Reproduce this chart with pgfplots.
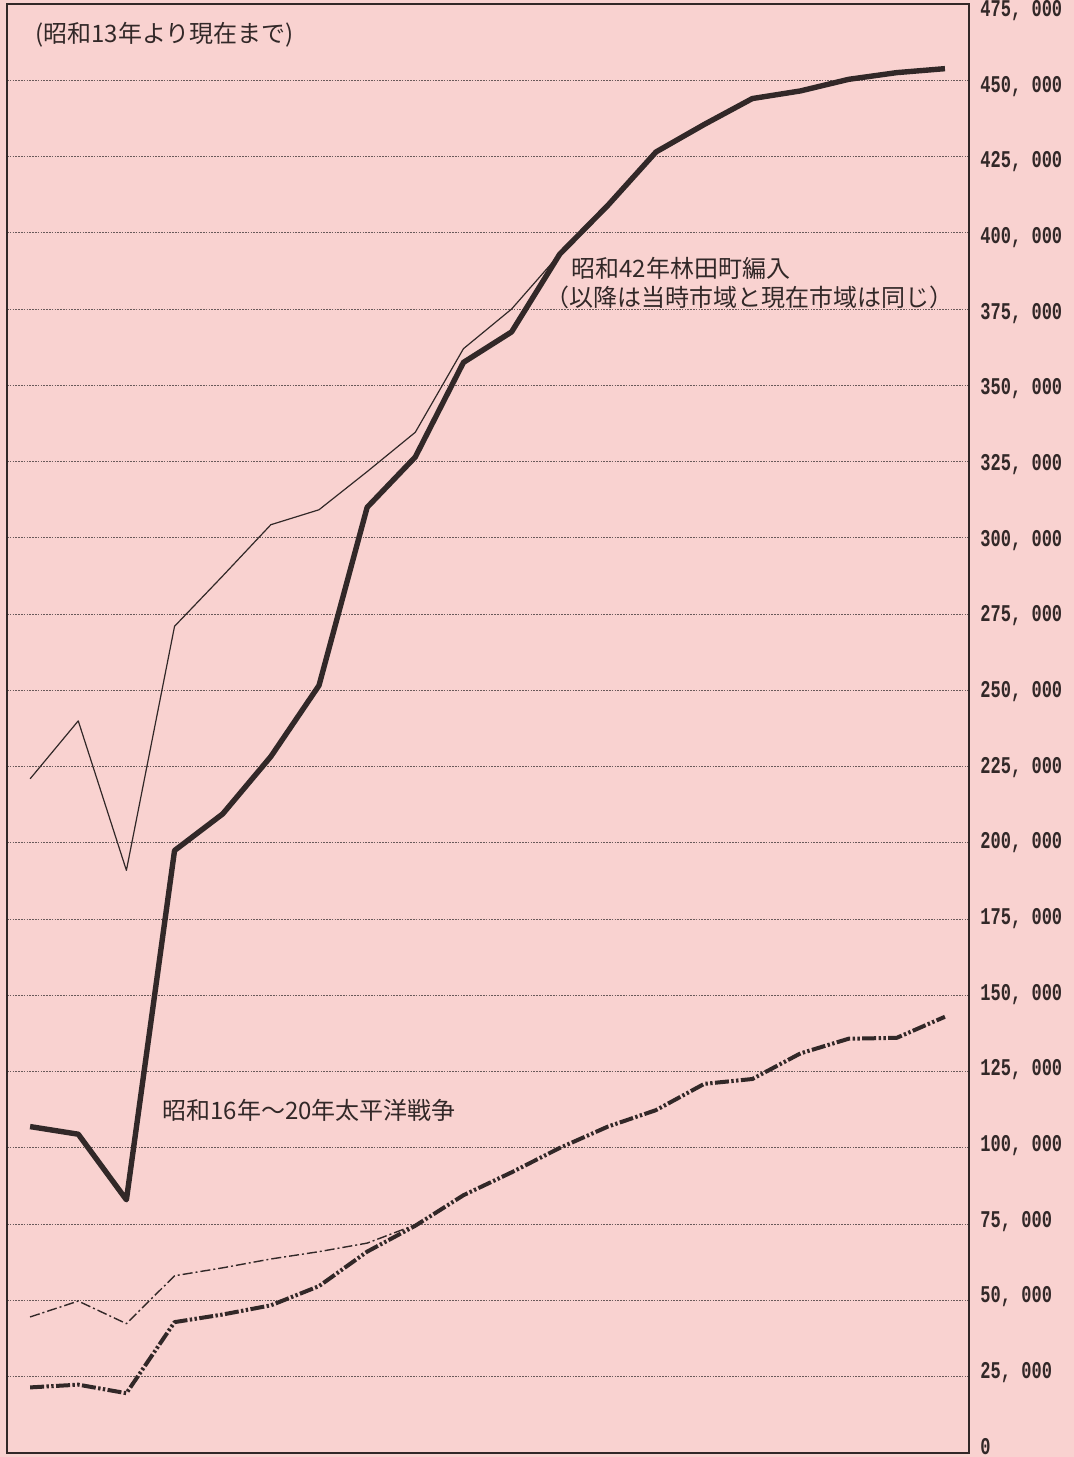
\documentclass[border=0pt]{standalone}
\usepackage{fontspec}
\usepackage{pgfplots}
\usepackage{pgfplotstable}
\pgfplotsset{compat=1.18}
\newfontfamily\cjk{Noto Sans CJK JP}
\newfontfamily\tickfont{Liberation Mono}[FakeStretch=0.71]
\definecolor{bgpink}{RGB}{249,210,208}
\definecolor{ink}{RGB}{50,40,40}
\definecolor{gridc}{RGB}{105,90,90}
\newcommand\tl[2]{\smash{\raisebox{#1pt}{#2}}}

\pgfplotstableread{
i pop hh
0 107000 21500
1 104500 22400
2 83000 19600
3 197500 42900
4 209500 45400
5 228300 48400
6 251600 54700
7 310000 66000
8 326500 74500
9 357500 84500
10 367500 92000
11 393000 100000
12 409000 107000
13 426500 112400
14 435500 121000
15 444000 122600
16 446500 131000
17 450300 135800
18 452500 136100
19 453800 143000
}\maintab

\pgfplotstableread{
i pop
0 221000
1 240000
2 191000
3 271000
4 287500
5 304300
6 309200
7 321700
8 334600
9 362000
10 375000
11 393000
}\areapop

\pgfplotstableread{
i hh
0 44600
1 49800
2 42400
3 58100
4 60700
5 63600
6 66000
7 68800
8 74800
}\areahh

\begin{document}
\begin{tikzpicture}
\useasboundingbox (0,0) rectangle (537pt,728.5pt);
\fill[bgpink] (0,0) rectangle (537pt,728.5pt);
\begin{axis}[
  at={(3.5pt,2pt)}, anchor=south west,
  scale only axis, width=481pt, height=724.5pt,
  xmin=-0.48, xmax=19.5, ymin=0, ymax=475000,
  xtick=\empty,
  ytick={0,25000,50000,75000,100000,125000,150000,175000,200000,225000,250000,275000,300000,325000,350000,375000,400000,425000,450000,475000},
  yticklabels={\tl{3.25}{0},\tl{2.95}{25, 000},\tl{2.64}{50, 000},\tl{2.34}{75, 000},\tl{2.04}{100, 000},\tl{1.74}{125, 000},\tl{1.43}{150, 000},\tl{1.13}{175, 000},\tl{0.83}{200, 000},\tl{0.53}{225, 000},\tl{0.22}{250, 000},\tl{-0.08}{275, 000},\tl{-0.38}{300, 000},\tl{-0.68}{325, 000},\tl{-0.99}{350, 000},\tl{-1.29}{375, 000},\tl{-1.59}{400, 000},\tl{-1.89}{425, 000},\tl{-2.2}{450, 000},\tl{-2.5}{475, 000}},
  scaled y ticks=false,
  yticklabel pos=right,
  major tick length=0pt,
  ymajorgrids,
  grid style={gridc, line width=0.5pt, dash pattern=on 0.8pt off 0.6pt},
  axis line style={ink, line width=0.8pt},
  yticklabel style={font=\tickfont\bfseries\fontsize{12}{12}\selectfont, text=ink, anchor=west, inner sep=0pt, xshift=5.5pt, yshift=-3.75pt},
]
\addplot[ink, line width=2.7pt, line join=round] table[x=i, y=pop] {\maintab};
\addplot[ink, line width=0.6pt, line join=round] table[x=i, y=pop] {\areapop};
\addplot[ink, line width=2pt, line join=round, dash pattern=on 7pt off 1.2pt on 1.2pt off 1.2pt on 1.2pt off 1.2pt] table[x=i, y=hh] {\maintab};
\addplot[ink, line width=0.7pt, line join=round, dash pattern=on 5pt off 1.5pt on 1pt off 1.5pt] table[x=i, y=hh] {\areahh};
\end{axis}
\node[anchor=west, inner sep=0pt, text=ink, font=\cjk\fontsize{12}{12}\selectfont] at (17.5pt,711pt) {(昭和13年より現在まで)};
\node[anchor=west, inner sep=0pt, text=ink, font=\cjk\fontsize{12}{12}\selectfont] at (285.5pt,594.5pt) {昭和42年林田町編入};
\node[anchor=west, inner sep=0pt, text=ink, font=\cjk\fontsize{12}{12}\selectfont] at (272.5pt,580pt) {（以降は当時市域と現在市域は同じ）};
\node[anchor=west, inner sep=0pt, text=ink, font=\cjk\fontsize{12}{12}\selectfont] at (81pt,173.5pt) {昭和16年～20年太平洋戦争};
\end{tikzpicture}
\end{document}
